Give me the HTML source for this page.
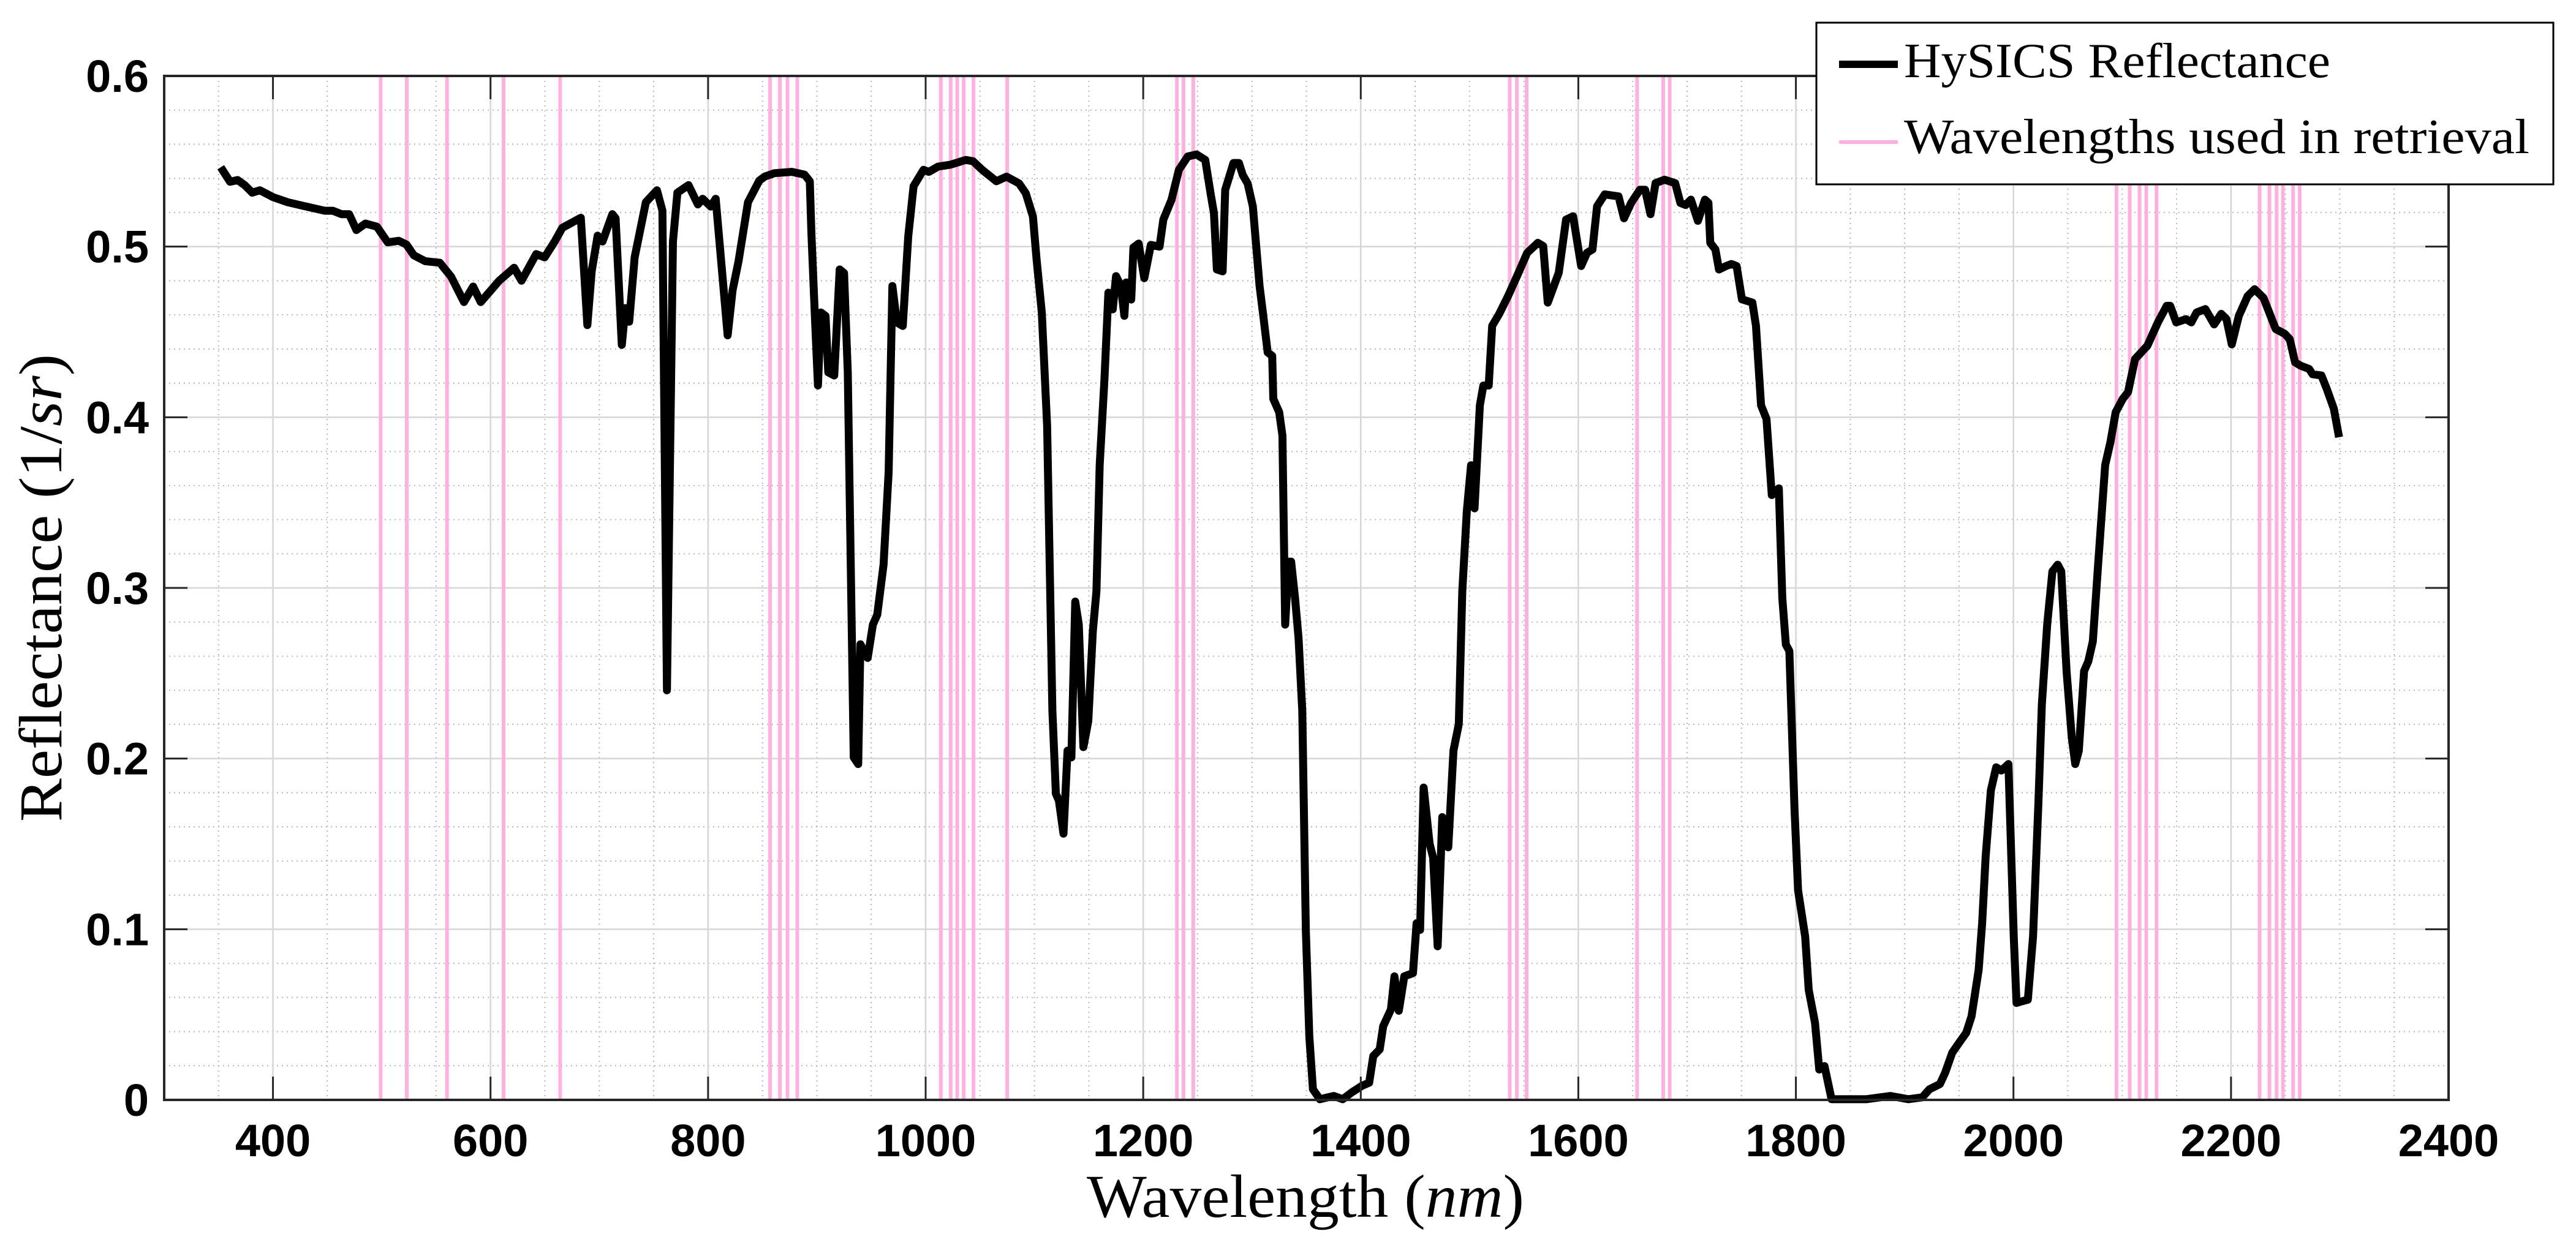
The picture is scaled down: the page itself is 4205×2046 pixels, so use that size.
<!DOCTYPE html>
<html><head><meta charset="utf-8"><style>
html,body{margin:0;padding:0;background:#fff;}
svg{display:block;}
</style></head><body>
<svg id="chart" width="4205" height="2046" viewBox="0 0 4205 2046" xmlns="http://www.w3.org/2000/svg">
<rect x="0" y="0" width="4205" height="2046" fill="#fff"/>
<g id="grid"></g>
<g id="pink"></g>
<g id="series"></g>
<g id="axes"></g>
<text x="2131" y="1987" text-anchor="middle" font-family="Liberation Serif, serif" font-size="100" textLength="714" lengthAdjust="spacingAndGlyphs">Wavelength (<tspan font-style="italic">nm</tspan>)</text>
<text transform="translate(100,960) rotate(-90)" text-anchor="middle" font-family="Liberation Serif, serif" font-size="100" textLength="764" lengthAdjust="spacingAndGlyphs">Reflectance (1/<tspan font-style="italic">sr</tspan>)</text>
<g>
<rect x="2965" y="37" width="1203" height="264" fill="#fff" stroke="#000" stroke-width="3"/>
<line x1="3002" y1="105" x2="3098" y2="105" stroke="#000" stroke-width="12"/>
<text x="3108" y="126" font-family="Liberation Serif, serif" font-size="80" textLength="696" lengthAdjust="spacingAndGlyphs">HySICS Reflectance</text>
<line x1="3002" y1="232" x2="3098" y2="232" stroke="#ffb0df" stroke-width="6"/>
<text x="3108" y="250" font-family="Liberation Serif, serif" font-size="80" textLength="1021" lengthAdjust="spacingAndGlyphs">Wavelengths used in retrieval</text>
</g>
</svg>
<script>
const xTicks = [400,600,800,1000,1200,1400,1600,1800,2000,2200,2400];
const yTicks = [0,0.1,0.2,0.3,0.4,0.5,0.6];
const yTickLabels = ["0","0.1","0.2","0.3","0.4","0.5","0.6"];
const retrievalWl = [499,523,560,612,664,857,866,873,882,1014,1023,1029,1035,1044,1075,1231,1237,1246,1537,1543.5,1552.5,1654,1678,1684,2094.7,2106.9,2115.9,2122.1,2131.5,2226.3,2235.3,2241.9,2247.7,2257.1,2263.1];
const wl = [352,360.6,367.5,374,381,388,400,413.5,427,447.5,455,463,470,476.7,485,495.5,505.5,515.7,522.7,529.5,539.8,553.4,563.7,575.6,584,591,608,621.7,628.5,642,649.7,659,666,683,689,693,698.5,703,712,715,720.7,724,727.5,732.5,742.8,753,758,762.2,767.7,771.8,782,790.6,795,802.4,807,818,822.5,828,836.7,847,852,861,877,888.6,893.5,895,898.3,901,903.7,908,910.5,916,921,925,928.4,933.9,938,940,946.7,951.5,955.5,961.3,966,969.4,973.6,979,984,988.9,998,1003,1011.5,1022.8,1037,1043.6,1052,1065,1074.4,1085.9,1092,1098.6,1102,1106.8,1111.7,1116.5,1119.7,1122.5,1126.7,1130.4,1134,1137.5,1140.8,1145,1149.5,1153.7,1157,1160,1164.4,1168,1172,1175,1179.5,1182.7,1184.4,1189,1191,1195.8,1201,1207,1215,1218.5,1226,1232.8,1241,1249,1257,1262,1265,1267.7,1273,1275.4,1283,1288,1291.5,1296,1300.8,1307,1310,1314.4,1318.6,1319.6,1325,1328,1330.5,1333.7,1336,1339.6,1342.8,1346.2,1349.5,1352.7,1356,1362.4,1375.3,1383.4,1391.5,1401,1407.7,1411.5,1417.4,1420.6,1427.7,1431,1435,1440,1448,1451.3,1454.5,1457.8,1463.3,1466.5,1470.7,1474.9,1480.4,1485.2,1490.1,1493.3,1497.5,1501.4,1504.6,1509.5,1512.7,1517.6,1520.8,1527.3,1535.4,1545,1553,1562.8,1567.7,1571.9,1582,1588.7,1595.2,1602.6,1608,1613,1617.2,1624.3,1637,1642,1648.5,1656.6,1661.4,1666.3,1671,1679.2,1689,1693.8,1698.6,1703.5,1709.9,1716.4,1719.6,1721.3,1726,1729.3,1735.8,1740.7,1745.5,1750.4,1760,1763.3,1768,1773,1777.8,1784.3,1787.5,1790.8,1794,1798.8,1802,1808.5,1811.8,1817.6,1821.5,1826.3,1832.8,1850,1864.5,1887,1903.3,1916.2,1922.7,1932.4,1937.2,1943.7,1950.1,1956.6,1961.5,1968,1971.2,1974.4,1979.2,1984.1,1988.9,1995.4,2000.3,2002.8,2006.7,2013.2,2018,2022.9,2026.1,2031,2035.8,2040.7,2043.9,2048.8,2053.6,2056.8,2060.1,2064.9,2068.8,2073,2077.8,2084.3,2089.2,2094,2100.5,2105.3,2111.8,2123.1,2132.8,2140.9,2144.1,2149.6,2158.7,2163.5,2168.4,2176.4,2184.5,2191,2195.8,2200.7,2207.2,2215.3,2221.7,2229.8,2241.1,2249.2,2254,2258.9,2263.7,2271.8,2275,2283.1,2288,2294.5,2299.3];
const refl = [0.5465,0.538,0.539,0.536,0.5316,0.533,0.529,0.526,0.524,0.521,0.521,0.519,0.519,0.5097,0.5135,0.5117,0.5025,0.5034,0.5012,0.4949,0.4915,0.4905,0.4824,0.4675,0.4766,0.4675,0.480,0.4876,0.480,0.4956,0.4937,0.503,0.511,0.5169,0.454,0.4857,0.5064,0.503,0.519,0.5166,0.4424,0.464,0.456,0.4937,0.526,0.533,0.521,0.24,0.503,0.5316,0.536,0.5247,0.528,0.5235,0.528,0.448,0.4743,0.4915,0.526,0.5386,0.541,0.543,0.5438,0.5422,0.5383,0.508,0.4575,0.4186,0.4614,0.4594,0.4263,0.4245,0.4866,0.4845,0.4263,0.2007,0.1968,0.267,0.259,0.2785,0.2843,0.3136,0.368,0.4769,0.4555,0.4535,0.506,0.5354,0.545,0.5438,0.5469,0.548,0.5508,0.550,0.545,0.5383,0.541,0.537,0.5313,0.5177,0.4925,0.4614,0.395,0.228,0.1794,0.1754,0.156,0.2046,0.2007,0.292,0.2785,0.2067,0.222,0.2746,0.298,0.3719,0.4224,0.473,0.4632,0.4827,0.4769,0.4594,0.479,0.469,0.4995,0.5018,0.4815,0.501,0.500,0.5158,0.5274,0.545,0.5528,0.554,0.5508,0.531,0.5197,0.4866,0.4855,0.5333,0.549,0.549,0.542,0.537,0.5236,0.4769,0.4614,0.438,0.436,0.4108,0.403,0.3893,0.2785,0.3154,0.3154,0.294,0.2707,0.228,0.0996,0.0373,0.0062,0.0004,0.0023,0.0004,0.0043,0.0082,0.0101,0.0257,0.0296,0.0432,0.053,0.0724,0.0522,0.0724,0.0743,0.1035,0.0996,0.183,0.150,0.142,0.090,0.1657,0.148,0.2047,0.2202,0.298,0.345,0.3719,0.3466,0.407,0.4186,0.4186,0.4536,0.4606,0.471,0.4847,0.4964,0.5022,0.5003,0.4672,0.4847,0.5158,0.5178,0.4886,0.4964,0.4983,0.5236,0.5306,0.5294,0.5166,0.5256,0.5333,0.5333,0.519,0.5372,0.5392,0.5372,0.5256,0.5244,0.5275,0.5151,0.5275,0.5256,0.5022,0.4983,0.4866,0.4886,0.4898,0.4886,0.4691,0.4672,0.4536,0.407,0.399,0.3544,0.3583,0.2941,0.2668,0.263,0.1696,0.1229,0.0957,0.0645,0.0451,0.0178,0.0198,0.0004,0.0004,0.0004,0.0023,0.0004,0.0015,0.0062,0.0093,0.0159,0.0276,0.0335,0.0393,0.049,0.0762,0.1035,0.1424,0.1813,0.1949,0.193,0.1968,0.0957,0.0568,0.0576,0.0587,0.0957,0.1735,0.2319,0.2786,0.3097,0.3136,0.3097,0.2513,0.2124,0.1968,0.2046,0.2513,0.257,0.2687,0.3136,0.3719,0.3856,0.403,0.4108,0.4147,0.4341,0.4419,0.4556,0.4653,0.4653,0.4556,0.4575,0.4556,0.4614,0.4634,0.4544,0.4606,0.4575,0.4427,0.4594,0.471,0.475,0.47,0.4517,0.449,0.4458,0.4322,0.4303,0.4283,0.4252,0.4245,0.4167,0.405,0.3883];

const NS = "http://www.w3.org/2000/svg";
const L = 268, R = 3997, T = 124, B = 1796;
const xMin = 300, xMax = 2400, yMin = 0, yMax = 0.6;
function xs(v){ return L + (v - xMin) / (xMax - xMin) * (R - L); }
function ys(v){ return B - (v - yMin) / (yMax - yMin) * (B - T); }
function mk(tag, attrs, parent){
  const e = document.createElementNS(NS, tag);
  for (const k in attrs) e.setAttribute(k, attrs[k]);
  parent.appendChild(e);
  return e;
}
const grid = document.getElementById('grid');
const pink = document.getElementById('pink');
const series = document.getElementById('series');
const axes = document.getElementById('axes');

for (let v = 350; v < xMax; v += 50) {
  if (v % 200 === 0) continue;
  const l = mk('line', {x1: xs(v), x2: xs(v), y1: T, y2: B, stroke: '#b8b8b8', 'stroke-width': 2, 'stroke-dasharray': '2 6'}, grid);
  
  
}
for (let i = 1; i < 30; i++) {
  if (i % 5 === 0) continue;
  const v = i * 0.02;
  const l = mk('line', {x1: L, x2: R, y1: ys(v), y2: ys(v), stroke: '#b8b8b8', 'stroke-width': 2, 'stroke-dasharray': '2 6'}, grid);
  
  
}
xTicks.forEach(v => {
  const l = mk('line', {x1: xs(v), x2: xs(v), y1: T, y2: B, stroke: '#d6d6d6', 'stroke-width': 2.5}, grid);
  
  
});
yTicks.forEach(v => {
  const l = mk('line', {x1: L, x2: R, y1: ys(v), y2: ys(v), stroke: '#d6d6d6', 'stroke-width': 2.5}, grid);
  
  
});
retrievalWl.forEach(v => {
  const l = mk('line', {x1: xs(v), x2: xs(v), y1: T, y2: B, stroke: '#ffb0df', 'stroke-width': 6}, pink);
  
  
});
let d = '';
wl.forEach((v, i) => { d += (i ? 'L' : 'M') + xs(v).toFixed(1) + ' ' + ys(refl[i]).toFixed(1); });
const p = mk('path', {d: d, fill: 'none', stroke: '#000', 'stroke-width': 13, 'stroke-linejoin': 'round'}, series);


const box = mk('rect', {x: L, y: T, width: R - L, height: B - T, fill: 'none', stroke: '#262626', 'stroke-width': 4}, axes);


xTicks.forEach(v => {
  const x = xs(v);
  const t1 = mk('line', {x1: x, x2: x, y1: B, y2: B - 38, stroke: '#262626', 'stroke-width': 3}, axes);
  
  
  const t2 = mk('line', {x1: x, x2: x, y1: T, y2: T + 38, stroke: '#262626', 'stroke-width': 3}, axes);
  
  
  const tx = mk('text', {x: x, y: 1888, 'text-anchor': 'middle', 'font-family': 'Liberation Sans, sans-serif', 'font-weight': 'bold', 'font-size': 74}, axes);
  tx.textContent = String(v);
  
  
});
yTicks.forEach((v, i) => {
  const y = ys(v);
  const t1 = mk('line', {x1: L, x2: L + 38, y1: y, y2: y, stroke: '#262626', 'stroke-width': 3}, axes);
  
  
  const t2 = mk('line', {x1: R, x2: R - 38, y1: y, y2: y, stroke: '#262626', 'stroke-width': 3}, axes);
  
  
  const tx = mk('text', {x: 243, y: y + 26, 'text-anchor': 'end', 'font-family': 'Liberation Sans, sans-serif', 'font-weight': 'bold', 'font-size': 74}, axes);
  tx.textContent = yTickLabels[i];
  
  
});
</script>
</body></html>
